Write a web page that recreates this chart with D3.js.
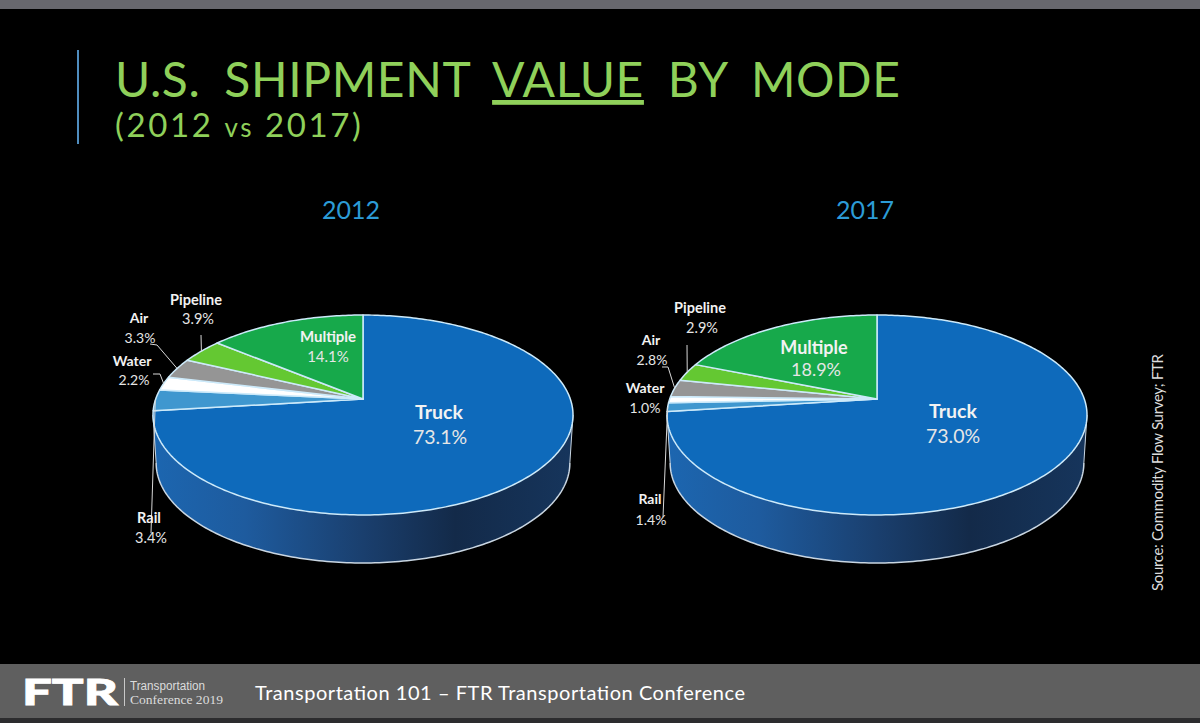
<!DOCTYPE html>
<html>
<head>
<meta charset="utf-8">
<script src="https://cdn.jsdelivr.net/npm/d3@7"></script>
<style>
  html, body { margin: 0; padding: 0; background: #000; overflow: hidden; }
  svg { display: block; }
  text { font-family: Lato, "Open Sans", sans-serif; }
</style>
</head>
<body>
<div id="chart"></div>
<script>
// data
var modes = ["Truck", "Rail", "Water", "Air", "Pipeline", "Multiple"];
var values2012 = [73.1, 3.4, 2.2, 3.3, 3.9, 14.1];
var values2017 = [73.0, 1.4, 1.0, 2.8, 2.9, 18.9];
var modeColors = ["#0e6abb", "#3f97cf", "#ffffff", "#959595", "#64c832", "#17a94b"];

// layout of each pie, labels are [x of name, baseline of name, x of value, baseline of value, size]
var layout2012 = {
    year: "2012", cx: 363, cy: 399, yearX: 351, depth: 48,
    labels: {
        Truck: [439, 419, 440, 444, 19.5],
        Rail: [149, 523, 151, 543, 14.5],
        Water: [132, 366, 134, 385, 14],
        Air: [139, 323, 140, 343, 14],
        Pipeline: [196, 305, 198, 324, 14.5],
        Multiple: [328, 342, 328, 362, 15]
    },
    leaders: {
        Rail: [[151, 533]],
        Water: [[153, 374], [160, 374]],
        Air: [[150, 344], [157, 345]],
        Pipeline: [[201, 335]]
    }
};
var layout2017 = {
    year: "2017", cx: 877, cy: 399, yearX: 865, depth: 48,
    labels: {
        Truck: [953, 418, 953, 443, 19.5],
        Rail: [650, 504, 651, 525, 14],
        Water: [645, 393, 645, 413, 14],
        Air: [651, 345, 652, 365, 14],
        Pipeline: [700, 313, 702, 333, 14.5],
        Multiple: [814, 354, 816, 376, 18]
    },
    leaders: {
        Rail: [[663, 517]],
        Air: [[662, 367], [668, 367]],
        Pipeline: [[687, 345]]
    }
};

var svgWidth = 1200;
var svgHeight = 723;

var svg = d3.select("#chart")
    .append("svg")
    .attr("width", svgWidth)
    .attr("height", svgHeight);

var defs = svg.append("defs");

// top strip and footer band
svg.append("rect").attr("width", svgWidth).attr("height", svgHeight).attr("fill", "#000");
svg.append("rect").attr("width", svgWidth).attr("height", 9).attr("fill", "#68686e");
svg.append("rect").attr("y", 664).attr("width", svgWidth).attr("height", 54).attr("fill", "#5f5f5f");
svg.append("rect").attr("y", 718).attr("width", svgWidth).attr("height", 5).attr("fill", "#2c2c2e");

// title block
svg.append("rect").attr("x", 77).attr("y", 50).attr("width", 2).attr("height", 94).attr("fill", "#4f8dbf");

var title = svg.append("text")
    .attr("x", 115)
    .attr("y", 97)
    .attr("font-size", 48)
    .attr("fill", "#8fd05a")
    .attr("letter-spacing", 0.6)
    .attr("word-spacing", 11);
title.append("tspan").text("U.S. SHIPMENT ");
title.append("tspan").attr("text-decoration", "underline").text("VALUE");
title.append("tspan").text(" BY MODE");

var subtitle = svg.append("text")
    .attr("x", 115)
    .attr("y", 137)
    .attr("font-size", 33)
    .attr("fill", "#8fd05a")
    .attr("letter-spacing", 2.6);
subtitle.append("tspan").text("(2012 ");
subtitle.append("tspan").attr("font-size", 26).text("vs");
subtitle.append("tspan").text(" 2017)");

// wall shading of the pies
function addWallGradient(id, cx) {
    var grad = defs.append("linearGradient")
        .attr("id", id)
        .attr("gradientUnits", "userSpaceOnUse")
        .attr("x1", cx - 210).attr("x2", cx + 210)
        .attr("y1", 0).attr("y2", 0);
    [[0, "#1c66b0"], [0.22, "#1e5b9e"], [0.5, "#1a3f6e"], [0.72, "#132a49"], [1, "#16355c"]]
        .forEach(function(s) {
            grad.append("stop").attr("offset", s[0]).attr("stop-color", s[1]);
        });
}

// the tilted disc: perspective makes the near half deeper than the far half
var persp = 0.16;
var discX = 207.3;
var discY = 97.4;

function drawPie(values, cfg) {
    var arcs = d3.pie().sort(null)(values);

    function project(angle, dy, sx) {
        var u = Math.sin(angle);
        var v = Math.cos(angle);
        var w = 1 + persp * v;
        return [cfg.cx + (sx || 1) * discX * u / w, cfg.cy - discY * v / w + (dy || 0)];
    }

    function sample(a0, a1) {
        var n = Math.max(2, Math.ceil(Math.abs(a1 - a0) * 60));
        return d3.range(n + 1).map(function(i) {
            return a0 + (a1 - a0) * i / n;
        });
    }

    var line = d3.line();
    var g = svg.append("g");
    var gradId = "wall" + cfg.year;
    addWallGradient(gradId, cfg.cx);

    // wall, from the right extreme round the front to the left extreme
    var aRight = Math.acos(-persp);
    var aLeft = 2 * Math.PI - aRight;
    var topRim = sample(aRight, aLeft).map(function(a) { return project(a); });
    var bottomRim = sample(aRight, aLeft).map(function(a) { return project(a, cfg.depth, 0.985); });

    g.append("path")
        .attr("d", line(topRim.concat(bottomRim.slice().reverse())) + "Z")
        .attr("fill", "url(#" + gradId + ")");
    g.append("path")
        .attr("d", line(bottomRim))
        .attr("fill", "none")
        .attr("stroke", "#c9d6e2")
        .attr("stroke-width", 1.5);
    [0, bottomRim.length - 1].forEach(function(i) {
        g.append("path")
            .attr("d", line([topRim[i], bottomRim[i]]))
            .attr("fill", "none")
            .attr("stroke", "#c9d6e2")
            .attr("stroke-width", 1);
    });

    // top face slices
    g.selectAll("path.slice")
        .data(arcs)
        .enter()
        .append("path")
        .attr("class", "slice")
        .attr("d", function(d) {
            var pts = sample(d.startAngle, d.endAngle).map(function(a) { return project(a); });
            return line([[cfg.cx, cfg.cy]].concat(pts)) + "Z";
        })
        .attr("fill", function(d, i) { return modeColors[i]; })
        .attr("stroke", "#cdeafa")
        .attr("stroke-width", 1.5)
        .attr("stroke-linejoin", "round");

    // leader lines go from the middle of a slice's edge out to its label
    arcs.forEach(function(d, i) {
        var points = cfg.leaders[modes[i]];
        if (!points) return;
        var start = project((d.startAngle + d.endAngle) / 2);
        g.append("path")
            .attr("d", line(points.concat([start])))
            .attr("fill", "none")
            .attr("stroke", "#d8d8d8")
            .attr("stroke-width", 1);
    });

    // year heading
    g.append("text")
        .attr("x", cfg.yearX)
        .attr("y", 219)
        .attr("text-anchor", "middle")
        .attr("font-size", 25)
        .attr("fill", "#2c9bd6")
        .text(cfg.year);

    // labels
    modes.forEach(function(mode, i) {
        var pos = cfg.labels[mode];
        g.append("text")
            .attr("x", pos[0])
            .attr("y", pos[1])
            .attr("text-anchor", "middle")
            .attr("font-size", pos[4])
            .attr("font-weight", "bold")
            .attr("fill", "#f2f2f2")
            .text(mode);
        g.append("text")
            .attr("x", pos[2])
            .attr("y", pos[3])
            .attr("text-anchor", "middle")
            .attr("font-size", pos[4])
            .attr("fill", "#e6e6e6")
            .text(d3.format(".1f")(values[i]) + "%");
    });
}

drawPie(values2012, layout2012);
drawPie(values2017, layout2017);

// source, running up the right side
svg.append("text")
    .attr("transform", "translate(1163, 591) rotate(-90)")
    .attr("font-size", 15)
    .attr("fill", "#dddddd")
    .attr("textLength", 237)
    .attr("lengthAdjust", "spacing")
    .text("Source: Commodity Flow Survey; FTR");

// footer
svg.append("text")
    .attr("x", 22)
    .attr("y", 705)
    .attr("font-size", 36)
    .attr("font-weight", 900)
    .attr("fill", "#ffffff")
    .attr("stroke", "#ffffff")
    .attr("stroke-width", 0.8)
    .attr("textLength", 96)
    .attr("lengthAdjust", "spacingAndGlyphs")
    .text("FTR");
svg.append("rect").attr("x", 124).attr("y", 678).attr("width", 1).attr("height", 28).attr("fill", "#c8c8c8");
svg.append("text")
    .attr("x", 130)
    .attr("y", 690)
    .attr("font-size", 12.5)
    .attr("fill", "#dcdcdc")
    .attr("textLength", 75)
    .attr("lengthAdjust", "spacingAndGlyphs")
    .attr("style", "font-family: 'Liberation Sans'")
    .text("Transportation");
svg.append("text")
    .attr("x", 130)
    .attr("y", 704)
    .attr("font-size", 13)
    .attr("fill", "#dcdcdc")
    .attr("textLength", 93)
    .attr("lengthAdjust", "spacingAndGlyphs")
    .attr("style", "font-family: 'Liberation Serif'")
    .text("Conference 2019");
svg.append("text")
    .attr("x", 255)
    .attr("y", 700)
    .attr("font-size", 20)
    .attr("fill", "#ffffff")
    .attr("textLength", 490)
    .attr("lengthAdjust", "spacing")
    .text("Transportation 101 – FTR Transportation Conference");
</script>
</body>
</html>
